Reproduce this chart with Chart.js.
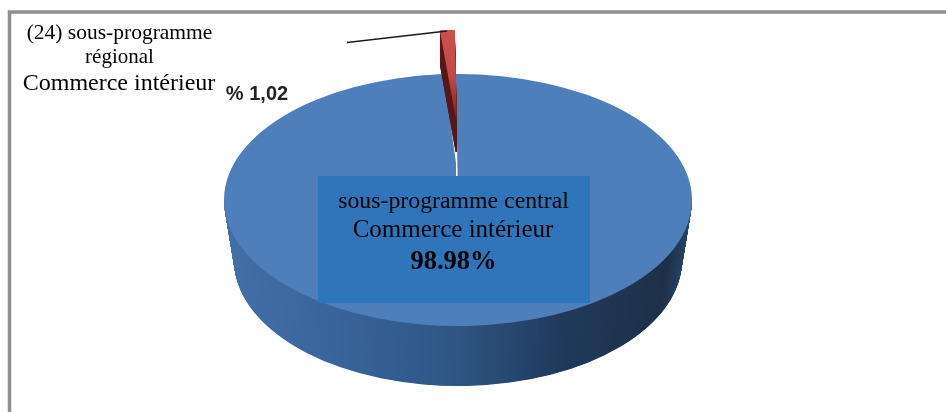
<!DOCTYPE html>
<html>
<head>
<meta charset="utf-8">
<title>Commerce intérieur</title>
<script src="https://cdn.jsdelivr.net/npm/chart.js@4"></script>
<style>
    html, body { margin: 0; padding: 0; background: #fff; }
    canvas { display: block; }
</style>
</head>
<body>
<canvas id="pie" width="946" height="412"></canvas>
<script>
const categories = ['sous-programme régional', 'sous-programme central']
const shareValues = [1.02, 98.98]
const sliceColors = ['#c8504b', '#4e7fba']

const regionalLabel = ['(24) sous-programme', 'régional', 'Commerce intérieur']
const regionalValue = '% 1,02'
const centralLabel = ['sous-programme central', 'Commerce intérieur']
const centralValue = '98.98%'

// ellipse of the top face on the page
const pieX = 458
const pieY = 200
const pieRx = 234
const pieRy = 126
const pieDepth = 60
const pieNarrow = 10 // bottom edge is a bit narrower, perspective

// red slice is pulled out and looks shorter
const redX = 457
const redY = 125
const redRy = 95
const redDepth = 35

function place(ctx, arc, x, y, rx, ry) {
    ctx.translate(x, y)
    ctx.scale(rx / arc.outerRadius, ry / arc.outerRadius)
    ctx.translate(-arc.x, -arc.y)
}

// arc.draw takes its colour from options, so swap it for a moment
function drawArc(ctx, arc, fill) {
    const saved = arc.options
    arc.options = Object.assign({}, saved, { backgroundColor: fill, borderWidth: 0 })
    arc.draw(ctx)
    arc.options = saved
}

function sideGradient(ctx, arc) {
    const g = ctx.createLinearGradient(arc.x - arc.outerRadius, 0, arc.x + arc.outerRadius, 0)
    g.addColorStop(0, '#426fa6')
    g.addColorStop(0.25, '#38639a')
    g.addColorStop(0.5, '#2e5583')
    g.addColorStop(0.72, '#203a5c')
    g.addColorStop(0.95, '#1e3048')
    g.addColorStop(1, '#264468')
    return g
}

const pie3d = {
    id: 'pie3d',
    beforeDatasetsDraw(chart) {
        const ctx = chart.ctx
        const [red, blue] = chart.getDatasetMeta(0).data

        // blue side, only the front half can be seen
        const side = sideGradient(ctx, blue)
        ctx.save()
        ctx.beginPath()
        ctx.rect(0, pieY, chart.width, chart.height - pieY)
        ctx.clip()
        for (let d = pieDepth; d > 0; d -= 0.5) {
            ctx.save()
            place(ctx, blue, pieX, pieY + d, pieRx - pieNarrow * d / pieDepth, pieRy)
            drawArc(ctx, blue, side)
            ctx.restore()
        }
        ctx.restore()

        // blue top
        ctx.save()
        place(ctx, blue, pieX, pieY, pieRx, pieRy)
        blue.draw(ctx)
        ctx.restore()

        // the white gap only shows right of the red wall, close its left side
        ctx.save()
        ctx.beginPath()
        ctx.rect(pieX - 60, pieY - pieRy, 58, pieRy)
        ctx.clip()
        place(ctx, blue, pieX + 3, pieY, pieRx, pieRy)
        blue.draw(ctx)
        ctx.restore()

        // red wall, cut before it would hide the white gap
        ctx.save()
        ctx.beginPath()
        ctx.rect(0, 0, chart.width, 152)
        ctx.clip()
        for (let d = redDepth; d > 0; d--) {
            ctx.save()
            place(ctx, red, redX, redY + d, pieRx, redRy)
            drawArc(ctx, red, '#571a1a')
            ctx.restore()
        }
        ctx.restore()

        // red top
        ctx.save()
        place(ctx, red, redX, redY, pieRx, redRy)
        const g = ctx.createLinearGradient(0, red.y - red.outerRadius, 0, red.y)
        g.addColorStop(0, '#cc514c')
        g.addColorStop(0.5, '#c24844')
        g.addColorStop(0.85, '#8a2b28')
        g.addColorStop(1, '#451616')
        drawArc(ctx, red, g)
        ctx.restore()

        return false
    },
    afterDraw(chart) {
        const ctx = chart.ctx
        ctx.save()

        // frame
        ctx.strokeStyle = '#8e8e8e'
        ctx.lineWidth = 3.5
        ctx.strokeRect(9.5, 12, 960, 500)

        // leader line
        ctx.strokeStyle = '#1a1a1a'
        ctx.lineWidth = 1.4
        ctx.beginPath()
        ctx.moveTo(347, 42.5)
        ctx.lineTo(447, 31)
        ctx.stroke()

        // central label box
        ctx.fillStyle = '#2e75b9'
        ctx.fillRect(318, 176, 272, 127)

        ctx.fillStyle = '#000'
        ctx.textAlign = 'center'
        ctx.textBaseline = 'alphabetic'
        ctx.font = '21.5px "Liberation Serif"'
        ctx.fillText(regionalLabel[0], 119.5, 39)
        ctx.font = '21px "Liberation Serif"'
        ctx.fillText(regionalLabel[1], 119.5, 63)
        ctx.font = '24px "Liberation Serif"'
        ctx.fillText(regionalLabel[2], 119, 90)

        ctx.font = '23.8px "Liberation Serif"'
        ctx.fillText(centralLabel[0], 453.5, 208)
        ctx.font = '25px "Liberation Serif"'
        ctx.fillText(centralLabel[1], 453, 237)
        ctx.font = 'bold 26.5px "Liberation Serif"'
        ctx.fillText(centralValue, 453.5, 269)

        ctx.fillStyle = '#222'
        ctx.font = 'bold 20px "Liberation Sans"'
        ctx.fillText(regionalValue, 257, 100)
        ctx.restore()
    }
}

new Chart(document.getElementById('pie'), {
    type: 'pie',
    data: {
        labels: categories,
        datasets: [{
            data: shareValues,
            backgroundColor: sliceColors,
            borderWidth: 0
        }]
    },
    options: {
        responsive: false,
        animation: false,
        rotation: -4.2,
        plugins: {
            legend: { display: false },
            tooltip: { enabled: false }
        }
    },
    plugins: [pie3d]
})
</script>
</body>
</html>
